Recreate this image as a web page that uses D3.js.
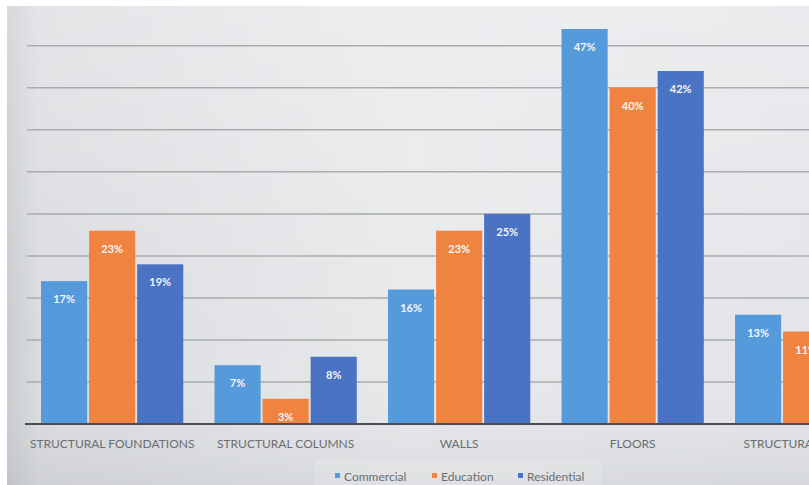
<!DOCTYPE html>
<html>
<head>
<meta charset="utf-8">
<script src="https://cdn.jsdelivr.net/npm/d3@7"></script>
<style>
  html, body { margin: 0; padding: 0; background: #fff; overflow: hidden; }
  svg { display: block; }
</style>
</head>
<body>
<svg id="chart" width="809" height="485"></svg>
<script>
// data
const categories = ["STRUCTURAL FOUNDATIONS", "STRUCTURAL COLUMNS", "WALLS", "FLOORS", "STRUCTURAL FRAMES"];
const seriesNames = ["Commercial", "Education", "Residential"];
const commercial = [17, 7, 16, 47, 13];
const education = [23, 3, 23, 40, 11];
const residential = [19, 8, 25, 42, 12];
const gridTicks = [5, 10, 15, 20, 25, 30, 35, 40, 45];

const colors = { Commercial: "#559bdb", Education: "#ef8340", Residential: "#4a73c4" };
const values = { Commercial: commercial, Education: education, Residential: residential };

const W = 809, H = 485;
const svg = d3.select("#chart");

// background gradient, like the photographed slide
const defs = svg.append("defs");
const bg = defs.append("linearGradient").attr("id", "bg").attr("x1", 0).attr("x2", 1).attr("y1", 0).attr("y2", 0);
bg.append("stop").attr("offset", "0").attr("stop-color", "#c9ccd0");
bg.append("stop").attr("offset", "0.04").attr("stop-color", "#dadcdf");
bg.append("stop").attr("offset", "0.5").attr("stop-color", "#e7e9eb");
bg.append("stop").attr("offset", "1").attr("stop-color", "#e3e5e8");
const bgV = defs.append("linearGradient").attr("id", "bgV").attr("x1", 0).attr("x2", 0).attr("y1", 0).attr("y2", 1);
bgV.append("stop").attr("offset", "0").attr("stop-color", "#ffffff").attr("stop-opacity", 0.25);
bgV.append("stop").attr("offset", "0.7").attr("stop-color", "#ffffff").attr("stop-opacity", 0);
bgV.append("stop").attr("offset", "1").attr("stop-color", "#9a9ea3").attr("stop-opacity", 0.18);

svg.append("rect").attr("x", 7).attr("y", 6).attr("width", W - 7).attr("height", H - 6).attr("fill", "url(#bg)");
svg.append("rect").attr("x", 7).attr("y", 6).attr("width", W - 7).attr("height", H - 6).attr("fill", "url(#bgV)");

// scales
const baseY = 424;
const y = d3.scaleLinear().domain([0, 47]).range([baseY, 29]);
const x0 = d3.scaleBand().domain(categories).range([25.4, 892.9]).paddingInner(0.18).paddingOuter(0.09);
const x1 = d3.scaleBand().domain(seriesNames).range([0, x0.bandwidth()]).paddingInner(0.04);

// gridlines
svg.append("g")
  .selectAll("line")
  .data(gridTicks)
  .join("line")
  .attr("x1", 27).attr("x2", W)
  .attr("y1", d => y(d)).attr("y2", d => y(d))
  .attr("stroke", "#a9abad").attr("stroke-width", 1.5);

// bars
const groups = svg.append("g")
  .selectAll("g")
  .data(categories)
  .join("g")
  .attr("transform", d => `translate(${x0(d)},0)`);

groups.selectAll("rect")
  .data((d, i) => seriesNames.map(s => ({ s, v: values[s][i] })))
  .join("rect")
  .attr("x", d => x1(d.s))
  .attr("y", d => y(d.v))
  .attr("width", x1.bandwidth())
  .attr("height", d => baseY - y(d.v))
  .attr("fill", d => colors[d.s]);

groups.selectAll("text")
  .data((d, i) => seriesNames.map(s => ({ s, v: values[s][i] })))
  .join("text")
  .attr("x", d => x1(d.s) + x1.bandwidth() / 2)
  .attr("y", d => y(d.v) + 22)
  .attr("text-anchor", "middle")
  .attr("fill", "#f4f6fa")
  .attr("font-family", "Lato, 'Open Sans', sans-serif")
  .attr("font-weight", "bold")
  .attr("font-size", "11px")
  .text(d => d.v + "%");

// x axis
const xAxis = svg.append("g")
  .attr("transform", `translate(0,${baseY})`)
  .call(d3.axisBottom(x0).tickSize(0).tickPadding(15));
xAxis.select(".domain").attr("d", `M25,0H${W}`).attr("stroke", "#4b4d50").attr("stroke-width", 2.2);
xAxis.selectAll("text")
  .attr("fill", "#6b6d71")
  .attr("font-family", "Lato, 'Open Sans', sans-serif")
  .attr("font-size", "12px");

// legend
svg.append("rect")
  .attr("x", 315).attr("y", 460).attr("width", 287).attr("height", 25)
  .attr("fill", "#ffffff").attr("opacity", 0.15);
const legendX = [335, 432, 518];
const legend = svg.append("g")
  .selectAll("g")
  .data(seriesNames)
  .join("g")
  .attr("transform", (d, i) => `translate(${legendX[i]},477)`);
legend.append("rect")
  .attr("x", 0).attr("y", -4).attr("width", 5).attr("height", 5)
  .attr("fill", d => colors[d]);
legend.append("text")
  .attr("x", 9).attr("y", 4)
  .attr("fill", "#6b6d71")
  .attr("font-family", "Lato, 'Open Sans', sans-serif")
  .attr("font-size", "12px")
  .text(d => d);
</script>
</body>
</html>
